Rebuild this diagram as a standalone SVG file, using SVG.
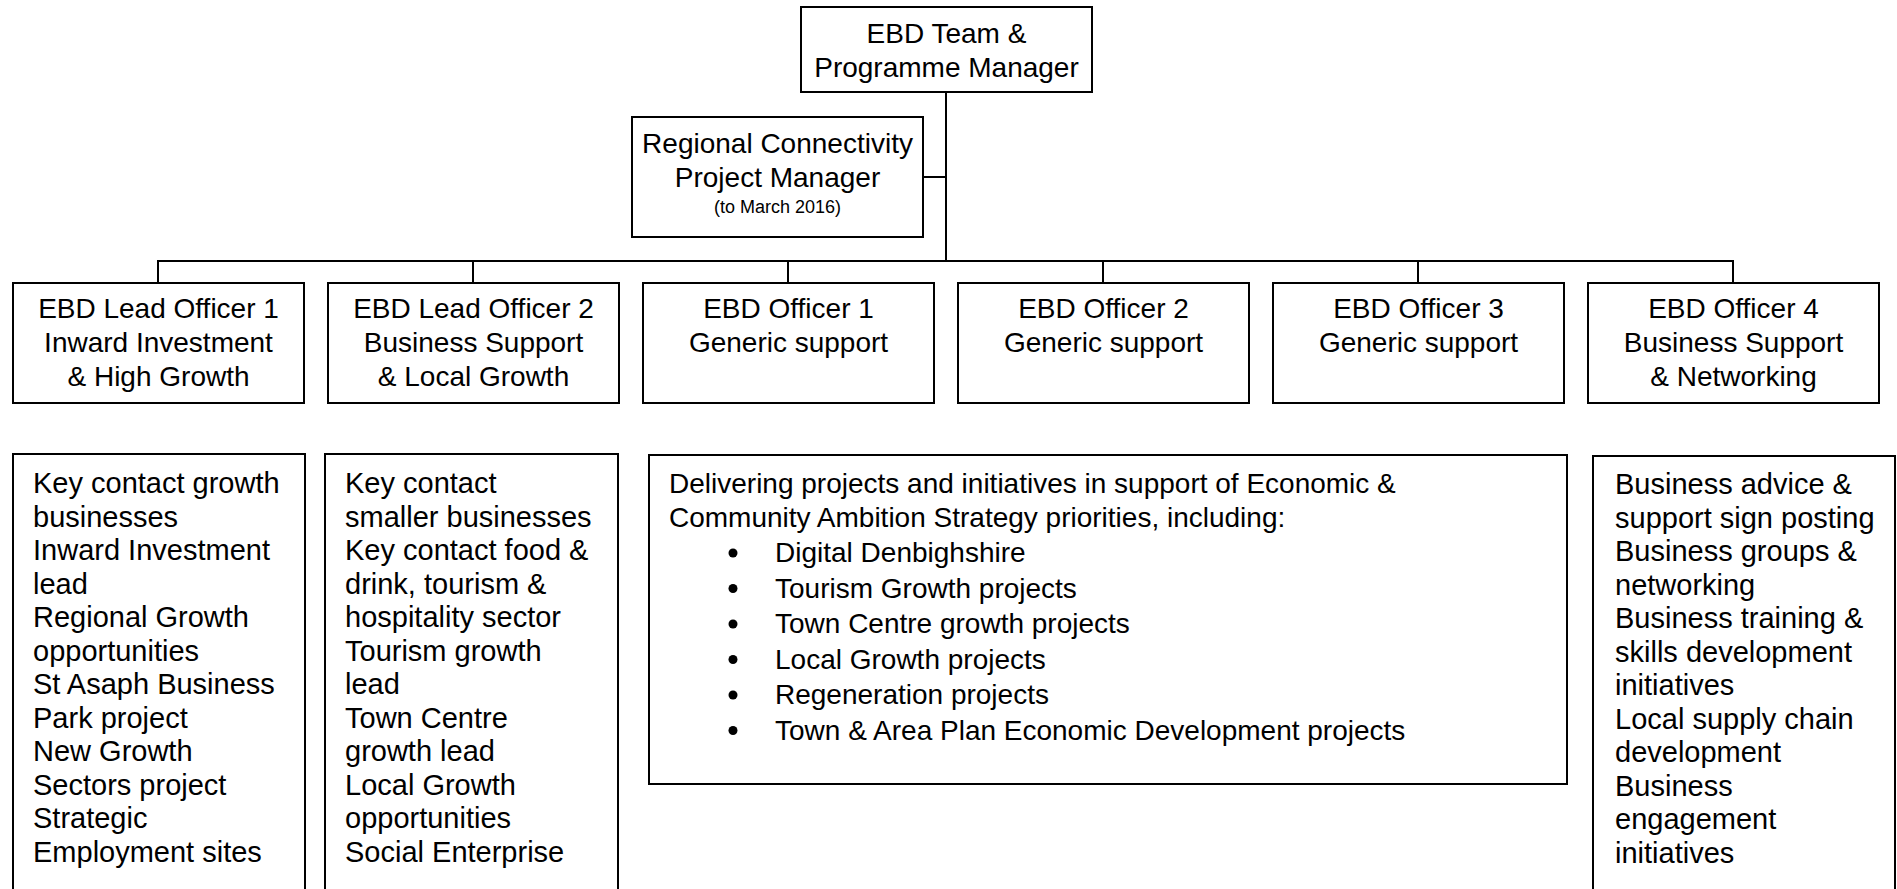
<svg xmlns="http://www.w3.org/2000/svg" width="1897" height="889" viewBox="0 0 1897 889">
<style>
rect.box{fill:#fff;stroke:#000;stroke-width:2}
.conn line{stroke:#000;stroke-width:2}
text{font-family:"Liberation Sans",Arial,sans-serif;fill:#000}
.t{font-size:28px;text-anchor:middle}
.s{font-size:18px;text-anchor:middle}
.b{font-size:29px}
.m{font-size:28px}
</style>
<rect width="1897" height="889" fill="#fff"/>
<g id="connectors" class="conn">
<line x1="946" y1="92" x2="946" y2="261"/>
<line x1="923" y1="177" x2="946" y2="177"/>
<line x1="157" y1="261" x2="1734" y2="261"/>
<line x1="158" y1="261" x2="158" y2="283"/>
<line x1="473" y1="261" x2="473" y2="283"/>
<line x1="788" y1="261" x2="788" y2="283"/>
<line x1="1103" y1="261" x2="1103" y2="283"/>
<line x1="1418" y1="261" x2="1418" y2="283"/>
<line x1="1733" y1="261" x2="1733" y2="283"/>
</g>
<g id="top">
<rect class="box" x="801" y="7" width="291" height="85"/>
<text class="t" x="946.5" y="43">EBD Team &amp;</text>
<text class="t" x="946.5" y="77">Programme Manager</text>
</g>
<g id="regional">
<rect class="box" x="632" y="117" width="291" height="120"/>
<text class="t" x="777.5" y="153">Regional Connectivity</text>
<text class="t" x="777.5" y="187">Project Manager</text>
<text class="s" x="777.5" y="213">(to March 2016)</text>
</g>
<g id="lead1">
<rect class="box" x="13" y="283" width="291" height="120"/>
<text class="t" x="158.5" y="318">EBD Lead Officer 1</text>
<text class="t" x="158.5" y="352">Inward Investment</text>
<text class="t" x="158.5" y="386">&amp; High Growth</text>
</g>
<g id="lead2">
<rect class="box" x="328" y="283" width="291" height="120"/>
<text class="t" x="473.5" y="318">EBD Lead Officer 2</text>
<text class="t" x="473.5" y="352">Business Support</text>
<text class="t" x="473.5" y="386">&amp; Local Growth</text>
</g>
<g id="officer1">
<rect class="box" x="643" y="283" width="291" height="120"/>
<text class="t" x="788.5" y="318">EBD Officer 1</text>
<text class="t" x="788.5" y="352">Generic support</text>
</g>
<g id="officer2">
<rect class="box" x="958" y="283" width="291" height="120"/>
<text class="t" x="1103.5" y="318">EBD Officer 2</text>
<text class="t" x="1103.5" y="352">Generic support</text>
</g>
<g id="officer3">
<rect class="box" x="1273" y="283" width="291" height="120"/>
<text class="t" x="1418.5" y="318">EBD Officer 3</text>
<text class="t" x="1418.5" y="352">Generic support</text>
</g>
<g id="officer4">
<rect class="box" x="1588" y="283" width="291" height="120"/>
<text class="t" x="1733.5" y="318">EBD Officer 4</text>
<text class="t" x="1733.5" y="352">Business Support</text>
<text class="t" x="1733.5" y="386">&amp; Networking</text>
</g>
<g id="duties-lead1">
<rect class="box" x="13" y="454" width="292" height="460"/>
<text class="b" x="33">
<tspan x="33" y="493">Key contact growth</tspan>
<tspan x="33" y="526.5">businesses</tspan>
<tspan x="33" y="560">Inward Investment</tspan>
<tspan x="33" y="593.5">lead</tspan>
<tspan x="33" y="627">Regional Growth</tspan>
<tspan x="33" y="660.5">opportunities</tspan>
<tspan x="33" y="694">St Asaph Business</tspan>
<tspan x="33" y="727.5">Park project</tspan>
<tspan x="33" y="761">New Growth</tspan>
<tspan x="33" y="794.5">Sectors project</tspan>
<tspan x="33" y="828">Strategic</tspan>
<tspan x="33" y="861.5">Employment sites</tspan>
</text>
</g>
<g id="duties-lead2">
<rect class="box" x="325" y="454" width="293" height="460"/>
<text class="b" x="345">
<tspan x="345" y="493">Key contact</tspan>
<tspan x="345" y="526.5">smaller businesses</tspan>
<tspan x="345" y="560">Key contact food &amp;</tspan>
<tspan x="345" y="593.5">drink, tourism &amp;</tspan>
<tspan x="345" y="627">hospitality sector</tspan>
<tspan x="345" y="660.5">Tourism growth</tspan>
<tspan x="345" y="694">lead</tspan>
<tspan x="345" y="727.5">Town Centre</tspan>
<tspan x="345" y="761">growth lead</tspan>
<tspan x="345" y="794.5">Local Growth</tspan>
<tspan x="345" y="828">opportunities</tspan>
<tspan x="345" y="861.5">Social Enterprise</tspan>
</text>
</g>
<g id="duties-officers">
<rect class="box" x="649" y="455" width="918" height="329"/>
<text class="m">
<tspan x="669" y="493">Delivering projects and initiatives in support of Economic &amp;</tspan>
<tspan x="669" y="527">Community Ambition Strategy priorities, including:</tspan>
<tspan x="775" y="562">Digital Denbighshire</tspan>
<tspan x="775" y="597.5">Tourism Growth projects</tspan>
<tspan x="775" y="633">Town Centre growth projects</tspan>
<tspan x="775" y="668.5">Local Growth projects</tspan>
<tspan x="775" y="704">Regeneration projects</tspan>
<tspan x="775" y="739.5">Town &amp; Area Plan Economic Development projects</tspan>
</text>
<circle cx="733" cy="553" r="4.5"/>
<circle cx="733" cy="588.5" r="4.5"/>
<circle cx="733" cy="624" r="4.5"/>
<circle cx="733" cy="659.5" r="4.5"/>
<circle cx="733" cy="695" r="4.5"/>
<circle cx="733" cy="730.5" r="4.5"/>
</g>
<g id="duties-officer4">
<rect class="box" x="1593" y="456" width="302" height="460"/>
<text class="b">
<tspan x="1615" y="494">Business advice &amp;</tspan>
<tspan x="1615" y="527.5">support sign posting</tspan>
<tspan x="1615" y="561">Business groups &amp;</tspan>
<tspan x="1615" y="594.5">networking</tspan>
<tspan x="1615" y="628">Business training &amp;</tspan>
<tspan x="1615" y="661.5">skills development</tspan>
<tspan x="1615" y="695">initiatives</tspan>
<tspan x="1615" y="728.5">Local supply chain</tspan>
<tspan x="1615" y="762">development</tspan>
<tspan x="1615" y="795.5">Business</tspan>
<tspan x="1615" y="829">engagement</tspan>
<tspan x="1615" y="862.5">initiatives</tspan>
</text>
</g>
</svg>
